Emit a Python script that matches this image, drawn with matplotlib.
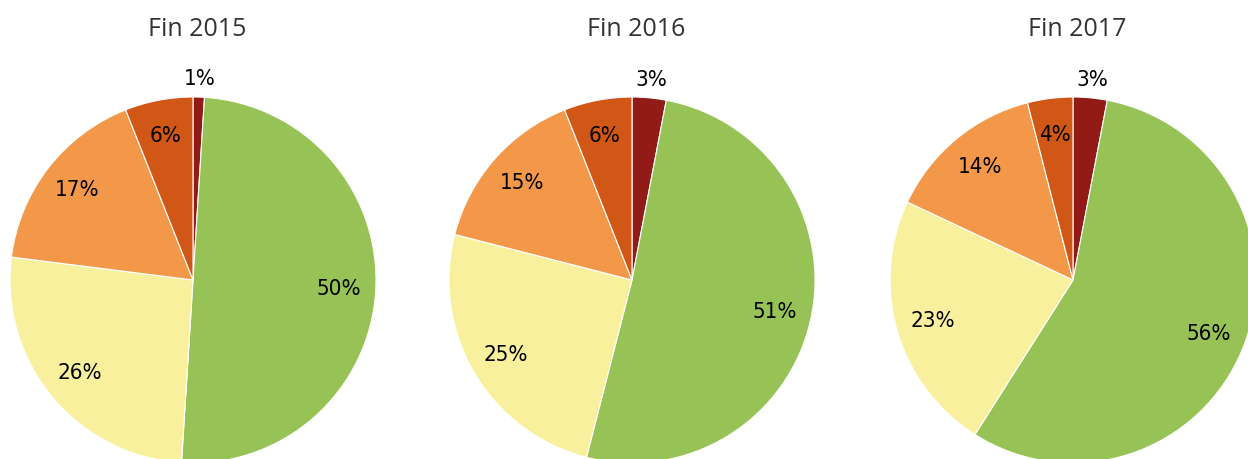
import numpy as np
import matplotlib.pyplot as plt

titles = ["Fin 2015", "Fin 2016", "Fin 2017"]
# ordre horaire depuis midi : rouge, vert, jaune, orange clair, orange foncé
valeurs = [
    [1, 50, 26, 17, 6],
    [3, 51, 25, 15, 6],
    [3, 56, 23, 14, 4],
]
couleurs = ["#921A17", "#96C256", "#F8F09C", "#F39848", "#D05716"]

W, H = 1248, 459
fig = plt.figure(figsize=(W / 100, H / 100), dpi=100)

centres_x = [193, 632, 1073]
cy = 280
r = 183

for i in range(3):
    cx = centres_x[i]
    ax = fig.add_axes([(cx - r) / W, (H - cy - r) / H, 2 * r / W, 2 * r / H])
    wedges, texts, autotexts = ax.pie(
        valeurs[i], colors=couleurs, startangle=90, counterclock=False,
        autopct="%1.0f%%", pctdistance=0.8, radius=1,
        wedgeprops=dict(edgecolor="white", linewidth=0.8),
        textprops=dict(fontsize=16, family=["DejaVu Sans"], fontstretch="condensed",
                       color="black"),
    )
    for w, t, v in zip(wedges, autotexts, valeurs[i]):
        t.set_clip_on(False)
        w.set_clip_on(False)
        if v < 4:
            # petites parts : étiquette au-dessus du camembert
            a = np.deg2rad((w.theta1 + w.theta2) / 2)
            t.set_position((1.1 * np.cos(a), 1.1 * np.sin(a)))
    ax.set_xlim(-1, 1)
    ax.set_ylim(-1, 1)
    ax.set_aspect("equal")
    ax.axis("off")
    fig.text((cx + 4) / W, 1 - 30 / H, titles[i], ha="center", va="center",
             fontsize=18, family=["Open Sans", "DejaVu Sans"], color="#333333")

fig.savefig("out.png", dpi=100)
